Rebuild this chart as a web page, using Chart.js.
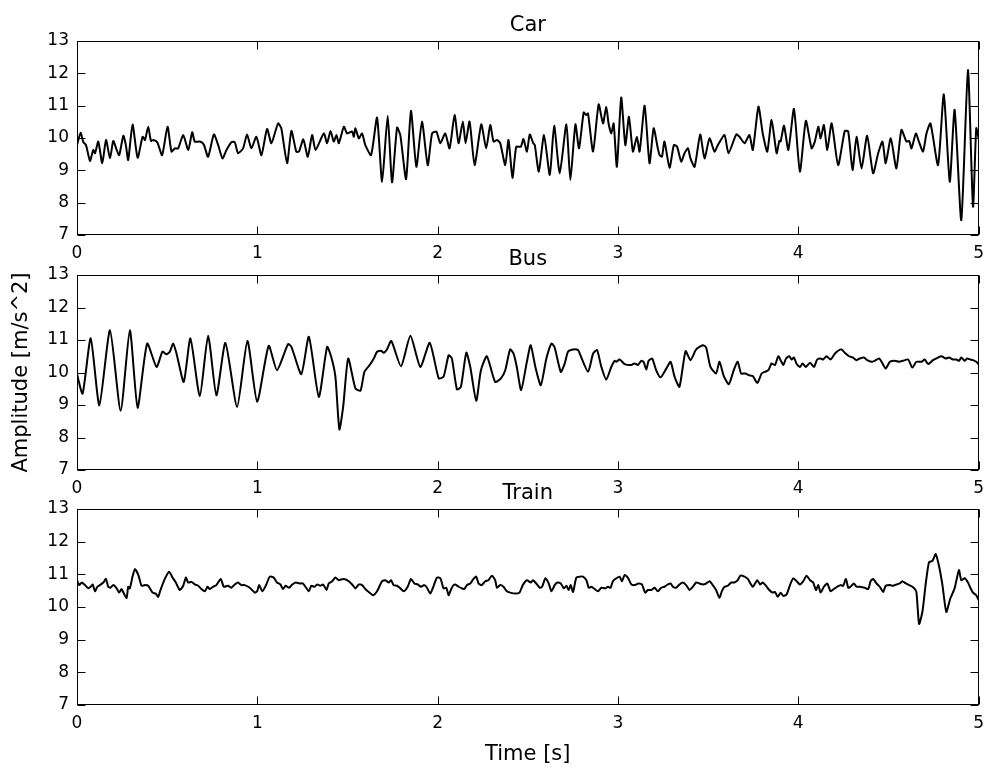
<!DOCTYPE html>
<html>
<head>
<meta charset="utf-8">
<script src="https://cdn.jsdelivr.net/npm/chart.js@4.4.1/dist/chart.umd.min.js"></script>
<style>
  html, body { margin: 0; padding: 0; background: #fff; }
  #wrap { position: relative; width: 992px; height: 769px; overflow: hidden; }
  #wrap canvas { position: absolute; left: 0; }
</style>
</head>
<body>
<div id="wrap">
  <canvas id="carChart"></canvas>
  <canvas id="busChart"></canvas>
  <canvas id="trainChart"></canvas>
</div>
<script>
'use strict'

// axis ticks
var xTicks = [0, 1, 2, 3, 4, 5];
var yTicks = [7, 8, 9, 10, 11, 12, 13];

// Car (time in s, amplitude in m/s^2)
var carTime = [0.000,0.020,0.035,0.050,0.072,0.090,0.100,0.118,0.140,0.161,0.183,0.201,0.220,0.234,0.257,0.271,0.284,0.308,0.336,0.364,0.377,0.395,0.410,0.423,0.445,0.472,0.502,0.524,0.543,0.561,0.589,0.617,0.639,0.653,0.681,0.703,0.727,0.759,0.783,0.807,0.829,0.856,0.875,0.893,0.921,0.943,0.967,0.995,1.023,1.054,1.078,1.115,1.133,1.165,1.189,1.216,1.231,1.255,
  1.280,1.304,1.323,1.369,1.387,1.406,1.424,1.439,1.452,1.480,1.498,1.526,1.535,1.544,1.563,1.581,1.599,1.631,1.664,1.692,1.723,1.747,1.775,1.793,1.825,1.852,1.882,1.913,1.945,1.969,1.993,2.015,2.042,2.066,2.094,2.116,2.140,2.155,2.177,2.205,2.242,2.269,2.292,2.310,2.329,2.347,2.375,2.393,2.415,2.436,2.461,2.476,2.495,
  2.511,2.530,2.539,2.561,2.590,2.622,2.646,2.677,2.714,2.736,2.764,2.784,2.810,2.824,2.834,2.862,2.893,2.917,2.935,2.948,2.963,2.976,2.994,3.018,3.041,3.061,3.083,3.105,3.120,3.148,3.175,3.198,3.221,3.231,3.244,3.258,3.286,3.310,3.328,3.351,3.369,3.388,3.402,3.425,3.456,3.480,3.508,3.535,3.554,3.591,3.613,3.656,3.674,3.702,3.729,3.748,
  3.779,3.803,3.828,3.852,3.880,3.895,3.902,3.921,3.945,3.976,4.009,4.042,4.074,4.092,4.111,4.124,4.142,4.161,4.185,4.221,4.258,4.277,4.301,4.323,4.351,4.382,4.415,4.443,4.467,4.485,4.513,4.544,4.572,4.600,4.615,4.628,4.652,4.670,4.692,4.711,4.733,4.775,4.807,4.840,4.867,4.904,4.941,4.969,4.987,5.000];
var carAmp = [9.78,10.16,9.87,9.78,9.29,9.63,9.53,9.89,9.22,9.94,9.37,9.91,9.63,9.47,10.07,9.78,9.32,10.42,9.39,10.04,9.94,10.35,9.91,9.94,9.87,9.47,10.35,9.58,9.68,9.68,10.09,9.63,10.18,9.89,9.89,9.80,9.42,10.11,9.78,9.37,9.63,9.87,9.87,9.53,9.68,10.11,9.68,10.04,9.47,10.28,9.84,10.45,10.30,9.22,10.22,9.58,9.58,9.96,
  9.42,10.09,9.63,10.14,9.84,10.22,9.89,10.09,9.84,10.35,10.14,10.20,10.04,10.30,9.99,10.14,9.78,9.47,10.63,8.65,10.69,8.63,10.32,10.09,8.73,10.84,9.11,10.51,9.16,10.14,10.20,9.84,10.14,9.68,10.71,9.84,10.51,9.84,10.51,9.16,10.42,9.68,10.40,9.89,9.94,9.84,9.16,9.94,8.77,9.73,9.73,9.97,9.58,
  10.11,9.84,9.78,8.96,10.09,8.86,10.38,8.91,10.42,8.70,10.42,9.68,10.79,10.71,10.76,9.58,11.04,10.45,10.97,10.45,10.14,10.45,9.11,11.25,9.78,10.66,9.58,10.04,9.58,11.00,9.22,10.30,9.68,9.47,9.42,9.89,9.08,9.78,9.73,9.27,9.53,9.68,9.37,9.11,10.11,9.37,9.99,9.58,9.78,10.09,9.53,10.11,10.04,9.84,10.09,9.63,
  10.97,10.14,9.58,10.56,9.53,9.91,9.89,10.38,9.63,10.90,8.96,10.53,9.68,9.89,10.35,9.99,10.40,9.63,10.45,9.16,10.22,10.20,9.01,10.04,9.06,10.07,8.91,9.53,9.89,9.22,9.99,9.06,10.25,9.89,9.91,9.68,10.14,9.87,9.58,10.14,10.45,9.16,11.35,8.65,10.87,7.46,12.10,7.88,10.30,10.00];

// Bus
var busTime = [0.000,0.031,0.076,0.124,0.183,0.242,0.293,0.336,0.389,0.441,0.474,0.496,0.515,0.533,0.552,0.592,0.629,0.681,0.727,0.773,0.823,0.888,0.945,0.999,1.063,1.109,1.170,1.189,1.244,
  1.286,1.341,1.387,1.409,1.433,1.455,1.476,1.504,1.544,1.572,1.594,1.623,1.646,1.664,1.686,1.701,1.719,1.743,1.797,1.849,1.904,1.956,2.006,2.033,2.061,2.079,2.107,2.129,2.159,2.181,2.214,2.240,2.273,2.319,2.351,2.375,2.402,2.421,2.439,2.463,2.495,
  2.516,2.542,2.572,2.603,2.631,2.649,2.683,2.705,2.723,2.751,2.779,2.788,2.834,2.862,2.884,2.908,2.935,2.963,2.982,2.991,3.009,3.037,3.074,3.092,3.111,3.129,3.142,3.157,3.170,3.190,3.212,3.236,3.268,3.292,3.314,3.341,3.375,3.402,3.434,3.471,3.489,3.513,3.544,3.563,3.587,3.615,3.642,3.664,3.683,3.707,3.725,3.748,
  3.773,3.797,3.815,3.834,3.852,3.871,3.889,3.902,3.917,3.932,3.950,3.963,3.976,3.991,4.009,4.024,4.042,4.065,4.087,4.105,4.124,4.138,4.157,4.179,4.203,4.221,4.240,4.258,4.282,4.304,4.323,4.341,4.364,4.382,4.406,4.424,4.449,4.467,4.485,4.508,4.535,4.559,4.581,4.609,4.633,4.655,4.683,4.701,4.720,4.747,4.775,4.794,4.818,4.836,4.858,4.877,4.891,4.904,4.923,4.936,4.954,4.969,4.987,5.000];
var busAmp = [9.95,9.35,11.05,8.99,11.30,8.82,11.30,8.92,10.89,10.17,10.64,10.56,10.64,10.89,10.58,9.71,11.05,9.27,11.13,9.30,10.91,8.94,10.97,9.10,10.82,10.07,10.87,10.79,9.95,
  11.10,9.25,10.79,10.50,9.87,8.25,8.94,10.43,9.51,9.44,10.02,10.23,10.43,10.64,10.67,10.61,10.71,10.97,10.19,11.13,10.17,10.91,9.82,9.87,10.53,10.43,9.48,9.56,10.61,10.17,9.13,10.07,10.50,9.71,9.82,10.07,10.71,10.58,10.17,9.46,10.33,
  10.84,10.17,9.61,10.43,10.89,10.77,10.02,10.28,10.64,10.71,10.69,10.58,10.02,10.58,10.69,10.17,9.78,10.17,10.36,10.33,10.40,10.26,10.23,10.28,10.23,10.36,10.33,10.09,10.36,10.43,10.07,9.85,10.12,10.33,9.87,9.56,10.66,10.38,10.71,10.84,10.77,10.17,9.97,10.33,9.89,9.64,10.07,10.33,9.97,9.97,9.92,9.89,
  9.68,9.97,10.02,10.07,10.28,10.23,10.50,10.38,10.23,10.43,10.50,10.40,10.46,10.26,10.17,10.28,10.17,10.30,10.17,10.40,10.43,10.40,10.50,10.40,10.58,10.67,10.71,10.61,10.50,10.46,10.38,10.43,10.46,10.38,10.33,10.36,10.43,10.28,10.12,10.33,10.36,10.33,10.36,10.40,10.15,10.33,10.33,10.40,10.26,10.38,10.46,10.50,10.43,10.46,10.40,10.40,10.36,10.46,10.36,10.43,10.40,10.38,10.33,10.25];

// Train
var trainTime = [0.000,0.013,0.026,0.044,0.063,0.076,0.087,0.100,0.113,0.127,0.146,0.161,0.173,0.186,0.201,0.220,0.234,0.247,0.260,0.275,0.284,0.293,0.308,0.321,0.340,0.358,0.377,0.395,0.419,0.437,0.450,0.463,0.487,0.511,0.530,0.548,0.570,0.589,0.604,0.616,0.635,0.653,0.672,0.690,0.709,0.724,0.736,0.755,0.773,0.797,0.814,0.838,0.856,0.875,0.893,0.912,0.930,0.958,0.986,0.999,1.010,1.028,1.050,1.069,1.091,1.109,1.128,1.142,1.157,1.176,1.194,1.213,1.235,1.253,
  1.286,1.299,1.317,1.332,1.350,1.365,1.384,1.396,1.415,1.433,1.452,1.476,1.498,1.526,1.544,1.563,1.581,1.599,1.618,1.642,1.664,1.692,1.710,1.729,1.742,1.756,1.775,1.793,1.812,1.834,1.852,1.871,1.889,1.908,1.926,1.941,1.959,1.978,1.996,2.015,2.033,2.048,2.061,2.070,2.085,2.098,2.116,2.135,2.148,2.162,2.181,2.199,2.214,2.227,2.245,2.264,2.282,2.301,2.319,2.329,2.347,2.365,2.384,2.402,2.430,2.454,2.472,2.495,
  2.516,2.529,2.547,2.566,2.579,2.598,2.616,2.631,2.649,2.664,2.683,2.701,2.714,2.727,2.738,2.751,2.769,2.788,2.806,2.825,2.838,2.852,2.871,2.889,2.908,2.930,2.945,2.959,2.972,2.991,3.009,3.022,3.037,3.055,3.074,3.092,3.114,3.133,3.151,3.166,3.185,3.203,3.221,3.240,3.258,3.277,3.292,3.305,3.323,3.341,3.360,3.378,3.397,3.415,3.434,3.452,3.471,3.489,3.508,3.526,3.544,3.563,3.576,3.591,3.609,3.628,3.646,3.664,3.679,3.702,3.720,3.738,3.748,
  3.773,3.788,3.803,3.821,3.839,3.858,3.871,3.886,3.902,3.917,3.935,3.954,3.972,3.991,4.009,4.028,4.046,4.065,4.083,4.098,4.111,4.124,4.142,4.161,4.179,4.197,4.216,4.234,4.249,4.264,4.277,4.290,4.308,4.323,4.341,4.369,4.388,4.401,4.415,4.434,4.452,4.471,4.485,4.508,4.526,4.544,4.563,4.577,4.596,4.615,4.640,4.655,4.670,4.689,4.707,4.725,4.744,4.762,4.781,4.799,4.821,4.843,4.867,4.891,4.904,4.923,4.941,4.954,4.969,4.987,5.000];
var trainAmp = [10.82,10.67,10.75,10.67,10.57,10.62,10.69,10.48,10.62,10.67,10.75,10.86,10.62,10.59,10.67,10.57,10.44,10.55,10.41,10.28,10.62,10.57,10.93,11.16,10.98,10.65,10.67,10.65,10.44,10.41,10.31,10.52,10.86,11.08,10.90,10.75,10.52,10.65,10.90,10.75,10.77,10.69,10.65,10.55,10.48,10.62,10.55,10.62,10.67,10.86,10.62,10.65,10.59,10.69,10.75,10.67,10.67,10.59,10.44,10.48,10.67,10.48,10.69,10.93,10.90,10.75,10.69,10.55,10.65,10.59,10.69,10.75,10.72,10.72,
  10.48,10.65,10.62,10.69,10.65,10.69,10.52,10.72,10.79,10.90,10.82,10.86,10.82,10.69,10.57,10.69,10.67,10.55,10.46,10.36,10.48,10.79,10.82,10.75,10.82,10.67,10.65,10.57,10.48,10.62,10.86,10.72,10.69,10.62,10.67,10.59,10.41,10.65,10.90,10.88,10.57,10.59,10.36,10.48,10.65,10.69,10.62,10.57,10.55,10.67,10.72,10.86,10.93,10.72,10.67,10.79,10.82,10.96,10.82,10.59,10.67,10.62,10.48,10.44,10.41,10.44,10.67,10.82,
  10.75,10.82,10.72,10.59,10.62,10.88,10.72,10.48,10.67,10.75,10.72,10.57,10.65,10.52,10.67,10.46,10.90,10.93,10.93,10.82,10.59,10.62,10.55,10.48,10.59,10.57,10.62,10.59,10.79,10.88,10.93,10.79,10.98,10.90,10.69,10.67,10.72,10.69,10.44,10.52,10.52,10.59,10.48,10.59,10.62,10.69,10.72,10.62,10.59,10.69,10.75,10.67,10.52,10.62,10.75,10.72,10.69,10.72,10.79,10.67,10.52,10.28,10.48,10.62,10.65,10.75,10.75,10.82,10.96,10.93,10.86,10.69,10.62,
  10.82,10.69,10.75,10.65,10.52,10.44,10.46,10.31,10.44,10.34,10.38,10.67,10.88,10.79,10.69,10.79,10.96,10.82,10.75,10.52,10.67,10.44,10.62,10.72,10.48,10.55,10.62,10.67,10.65,10.86,10.59,10.62,10.72,10.62,10.62,10.59,10.55,10.79,10.86,10.72,10.62,10.46,10.65,10.67,10.65,10.69,10.72,10.79,10.72,10.67,10.59,10.46,9.48,9.87,10.72,11.37,11.41,11.62,11.24,10.69,9.85,10.26,10.57,11.13,10.82,10.88,10.75,10.59,10.44,10.36,10.21];

var FONT = '"DejaVu Sans", "Bitstream Vera Sans", sans-serif';
var PLOT_LEFT = 77, PLOT_RIGHT = 980, TOP_PAD = 41, AXIS_H = 65;

// frame, inward ticks on all four sides, titles and axis labels
var framePlugin = {
  id: 'frame',
  afterDraw: function(chart, args, opts) {
    var ctx = chart.ctx, a = chart.chartArea;
    var x = chart.scales.x, y = chart.scales.y;
    var L = Math.round(a.left) + 0.5, R = Math.round(a.right) - 0.5;
    var T = Math.round(a.top) + 0.5, B = Math.round(a.bottom) - 0.5;
    ctx.save();
    ctx.strokeStyle = '#000';
    ctx.lineWidth = 1;
    ctx.strokeRect(L, T, R - L, B - T);
    ctx.beginPath();
    xTicks.forEach(function(v) {
      var px = Math.round(x.getPixelForValue(v)) + 0.5;
      ctx.moveTo(px, B); ctx.lineTo(px, B - 8);
      ctx.moveTo(px, T); ctx.lineTo(px, T + 8);
    });
    yTicks.forEach(function(v) {
      var py = Math.round(y.getPixelForValue(v)) + 0.5;
      ctx.moveTo(L, py); ctx.lineTo(L + 8, py);
      ctx.moveTo(R, py); ctx.lineTo(R - 8, py);
    });
    ctx.stroke();

    ctx.fillStyle = '#000';
    ctx.textAlign = 'center';
    ctx.font = '21px ' + FONT;
    ctx.textBaseline = 'alphabetic';
    ctx.fillText(opts.title, (a.left + a.right) / 2, a.top - 10);
    ctx.textBaseline = 'middle';
    if (opts.xLabel) {
      ctx.fillText(opts.xLabel, (a.left + a.right) / 2, a.bottom + 50);
    }
    if (opts.yLabel) {
      ctx.translate(22, (a.top + a.bottom) / 2);
      ctx.rotate(-Math.PI / 2);
      ctx.fillText(opts.yLabel, 0, 0);
    }
    ctx.restore();
  }
};

function makePanel(id, top, bottom, title, times, amps, extra) {
  var cv = document.getElementById(id);
  cv.width = 992;
  cv.height = (bottom - top) + TOP_PAD + AXIS_H;
  cv.style.top = (top - TOP_PAD) + 'px';

  var points = times.map(function(t, i) { return { x: t, y: amps[i] }; });

  return new Chart(cv, {
    type: 'line',
    data: {
      datasets: [{
        data: points,
        borderColor: '#000',
        borderWidth: 2,
        pointRadius: 0,
        fill: false,
        tension: 0.2
      }]
    },
    options: {
      responsive: false,
      animation: false,
      layout: { padding: { left: 0, right: 992 - PLOT_RIGHT, top: TOP_PAD, bottom: 0 } },
      plugins: {
        legend: { display: false },
        tooltip: { enabled: false },
        frame: Object.assign({ title: title }, extra || {})
      },
      scales: {
        x: {
          type: 'linear',
          min: 0,
          max: 5,
          afterBuildTicks: function(s) { s.ticks = xTicks.map(function(v) { return { value: v }; }); },
          afterFit: function(s) { s.height = AXIS_H; },
          grid: { display: false, drawTicks: false },
          border: { display: false },
          ticks: { color: '#000', padding: 8, maxRotation: 0, autoSkip: false, font: { family: FONT, size: 17 } }
        },
        y: {
          type: 'linear',
          min: 7,
          max: 13,
          afterBuildTicks: function(s) { s.ticks = yTicks.map(function(v) { return { value: v }; }); },
          afterFit: function(s) { s.width = PLOT_LEFT; },
          grid: { display: false, drawTicks: false },
          border: { display: false },
          ticks: { color: '#000', padding: 8, font: { family: FONT, size: 17 } }
        }
      }
    },
    plugins: [framePlugin]
  });
}

makePanel('carChart', 41, 235, 'Car', carTime, carAmp);
makePanel('busChart', 275, 470, 'Bus', busTime, busAmp, { yLabel: 'Amplitude [m/s^2]' });
makePanel('trainChart', 509, 705, 'Train', trainTime, trainAmp, { xLabel: 'Time [s]' });
</script>
</body>
</html>
